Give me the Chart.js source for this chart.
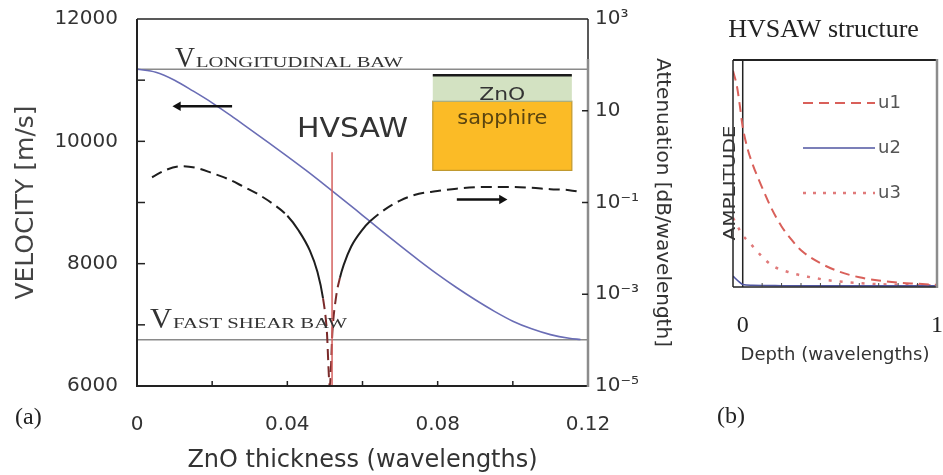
<!DOCTYPE html>
<html>
<head>
<meta charset="utf-8">
<script src="https://cdn.jsdelivr.net/npm/chart.js@4.4.1/dist/chart.umd.min.js"></script>
<style>
  html, body { margin: 0; padding: 0; background: #fff; }
  #wrap { position: relative; width: 943px; height: 475px; }
  #ca { position: absolute; left: 0; top: 0; }
  #cb { position: absolute; left: 690px; top: 0; }
</style>
</head>
<body>
<div id="wrap">
  <canvas id="ca" width="690" height="475"></canvas>
  <canvas id="cb" width="253" height="475"></canvas>
</div>
<script>
// ---- panel (a): velocity and attenuation vs ZnO thickness ----
var thickness = [0, 0.005, 0.01, 0.015, 0.02, 0.025, 0.03, 0.035, 0.04, 0.045, 0.05, 0.055, 0.06,
                 0.065, 0.07, 0.075, 0.08, 0.085, 0.09, 0.095, 0.1, 0.105, 0.11, 0.115, 0.118];
var velocity = [11180, 11130, 11000, 10820, 10630, 10420, 10200, 9980, 9755, 9525, 9285, 9040, 8790,
                8540, 8295, 8055, 7825, 7610, 7410, 7225, 7060, 6935, 6840, 6780, 6760];

var attThickness = [0.004, 0.008, 0.012, 0.016, 0.02, 0.024, 0.028, 0.032, 0.036, 0.04, 0.043, 0.046,
                    0.048, 0.0495, 0.0505, 0.0513, 0.052, 0.053, 0.054, 0.055, 0.057, 0.06, 0.062,
                    0.066, 0.07, 0.075, 0.08, 0.085, 0.09, 0.095, 0.1, 0.105, 0.11, 0.115, 0.118];
var attenuation = [0.355, 0.525, 0.617, 0.562, 0.437, 0.331, 0.229, 0.155, 0.0955, 0.0513, 0.0245, 0.00891,
                   0.00309, 0.000813, 0.000162, 0.00001, 0.000155, 0.000912, 0.00229, 0.00437, 0.011, 0.0257, 0.0389,
                   0.0708, 0.11, 0.155, 0.178, 0.2, 0.214, 0.219, 0.219, 0.209, 0.195, 0.186, 0.17];

var vLongitudinal = 11180;
var vFastShear = 6755;
var hvsawThickness = 0.0519;
var hvsawMarkerV = [6000, 9820];

var arrowLeftX = [0.0253, 0.0109];
var arrowLeftV = 10574;
var arrowRightX = [0.0851, 0.0971];
var arrowRightV = 9049;

var thicknessLabels = [0, 0.04, 0.08, 0.12];
var velocityLabels = [6000, 8000, 10000, 12000];
var attTicks = [1e-5, 1e-3, 1e-1, 1e1, 1e3];
var attTickText = { '3': '10\u00B3', '1': '10', '-1': '10\u207B\u00B9', '-3': '10\u207B\u00B3', '-5': '10\u207B\u2075' };

// ---- panel (b): HVSAW displacement profile ----
var depthU1 = [-0.05, -0.03, -0.015, 0, 0.025, 0.05, 0.1, 0.15, 0.2, 0.25, 0.3, 0.4, 0.5, 0.6, 0.7, 0.8, 0.9, 1.0];
var ampU1 = [1.0, 0.93, 0.84, 0.74, 0.64, 0.57, 0.46, 0.36, 0.28, 0.22, 0.17, 0.11, 0.07, 0.045, 0.03, 0.02, 0.015, 0.01];
var depthU2 = [-0.05, -0.02, 0, 0.05, 0.2, 0.4, 0.6, 0.8, 1.0];
var ampU2 = [0.05, 0.025, 0.012, 0.008, 0.006, 0.005, 0.005, 0.005, 0.005];
var depthU3 = [-0.05, -0.02, 0, 0.04, 0.1, 0.15, 0.25, 0.35, 0.45, 0.6, 0.8, 1.0];
var ampU3 = [0.32, 0.27, 0.24, 0.2, 0.14, 0.1, 0.065, 0.045, 0.03, 0.018, 0.01, 0.008];
var depthLabels = [0, 1];
var depthMinorTicks = [0.1, 0.2, 0.3, 0.4, 0.5, 0.6, 0.7, 0.8, 0.9];

var SANS = 'DejaVu Sans';
var SERIF = 'Liberation Serif';

function pts(xs, ys) {
  return xs.map(function (x, i) { return { x: x, y: Array.isArray(ys) ? ys[i] : ys }; });
}

function line(ctx, x1, y1, x2, y2) {
  ctx.beginPath(); ctx.moveTo(x1, y1); ctx.lineTo(x2, y2); ctx.stroke();
}

// draw text squeezed/stretched to a given width (the original figure is wider than its fonts)
function fitText(ctx, text, x, y, font, width, color, align, rot) {
  ctx.save();
  ctx.font = font;
  ctx.fillStyle = color;
  ctx.textBaseline = rot ? 'middle' : 'alphabetic';
  var w = ctx.measureText(text).width;
  ctx.translate(x, y);
  if (rot) ctx.rotate(rot);
  ctx.scale(width / w, 1);
  ctx.textAlign = align || 'left';
  ctx.fillText(text, 0, 0);
  ctx.restore();
}

// keep chart areas exactly where the figure has them
function noScalePadding(sc) {
  sc.paddingTop = 0; sc.paddingBottom = 0; sc.paddingLeft = 0; sc.paddingRight = 0;
}

var framePluginA = {
  id: 'frameA',
  afterDraw: function (chart) {
    var ctx = chart.ctx, a = chart.chartArea, s = chart.scales;
    ctx.save();
    ctx.lineCap = 'butt';
    // frame
    ctx.strokeStyle = '#222'; ctx.lineWidth = 1.5;
    line(ctx, a.left, a.top, a.right, a.top);
    ctx.lineWidth = 2;
    line(ctx, a.left, a.top, a.left, a.bottom + 1);
    line(ctx, a.left, a.bottom, a.right + 1, a.bottom);
    ctx.strokeStyle = '#8c8c8c'; ctx.lineWidth = 2.5;
    line(ctx, a.right, a.top + 40, a.right, a.bottom + 1);
    ctx.strokeStyle = '#222'; ctx.lineWidth = 1.5;
    line(ctx, a.right, a.top, a.right, a.top + 40);
    // inward tick marks
    ctx.strokeStyle = '#222'; ctx.lineWidth = 1.5;
    s.y.ticks.forEach(function (t) {
      var p = s.y.getPixelForValue(t.value);
      if (p > a.top + 2 && p < a.bottom - 2) line(ctx, a.left, p, a.left + 8, p);
    });
    s.x.ticks.forEach(function (t) {
      var p = s.x.getPixelForValue(t.value);
      if (p > a.left + 2 && p < a.right - 2) line(ctx, p, a.bottom, p, a.bottom - 5);
    });
    s.y2.ticks.forEach(function (t) {
      var p = s.y2.getPixelForValue(t.value);
      if (p > a.top + 2 && p < a.bottom - 2) line(ctx, a.right - 6, p, a.right, p);
    });

    // bulk wave labels
    var yl = s.y.getPixelForValue(vLongitudinal);
    var yf = s.y.getPixelForValue(vFastShear);
    var x0 = s.x.getPixelForValue(0);
    fitText(ctx, 'V', x0 + 38, yl - 2, '29px ' + SERIF, 20, '#333');
    fitText(ctx, 'LONGITUDINAL BAW', x0 + 59, yl - 2, '15px ' + SERIF, 207, '#333');
    fitText(ctx, 'V', x0 + 13, yf - 12, '29px ' + SERIF, 22, '#333');
    fitText(ctx, 'FAST SHEAR BAW', x0 + 36, yf - 12, '15px ' + SERIF, 174, '#333');

    // HVSAW label
    fitText(ctx, 'HVSAW', 297, 137, '27px ' + SANS, 111, '#333');

    // layered-structure inset
    var il = s.x.getPixelForValue(0.0787), ir = s.x.getPixelForValue(0.1157);
    var it = s.y.getPixelForValue(11082), im = s.y.getPixelForValue(10656), ib = s.y.getPixelForValue(9525);
    ctx.fillStyle = '#fbbb26';
    ctx.fillRect(il, im, ir - il, ib - im);
    ctx.strokeStyle = '#c0982e'; ctx.lineWidth = 1.2;
    ctx.strokeRect(il, im, ir - il, ib - im);
    ctx.fillStyle = '#d3e2c2';
    ctx.fillRect(il, it, ir - il, im - it);
    ctx.strokeStyle = '#9fae8e'; ctx.lineWidth = 1;
    line(ctx, il, im, ir, im);
    ctx.strokeStyle = '#1a1a1a'; ctx.lineWidth = 2.5;
    line(ctx, il, it, ir, it);
    var ic = (il + ir) / 2;
    fitText(ctx, 'ZnO', ic, im - 1, '18px ' + SANS, 46, '#333', 'center');
    fitText(ctx, 'sapphire', ic, im + 23, '19px ' + SANS, 90, '#5a4410', 'center');

    // panel tag
    ctx.fillStyle = '#222';
    ctx.font = '24px ' + SERIF;
    ctx.textAlign = 'left';
    ctx.textBaseline = 'middle';
    ctx.fillText('(a)', 15, 418);
    ctx.restore();
  }
};

var chartA = new Chart(document.getElementById('ca'), {
  type: 'line',
  data: {
    datasets: [
      {
        label: 'HVSAW thickness',
        data: pts([hvsawThickness, hvsawThickness], hvsawMarkerV),
        borderColor: '#d4605e', borderWidth: 1.5, pointRadius: 0, yAxisID: 'y', order: 0
      },
      {
        label: 'attenuation',
        data: pts(attThickness, attenuation),
        borderColor: '#1e1e1e', borderWidth: 2, borderDash: [11, 6], pointRadius: 0,
        cubicInterpolationMode: 'monotone', yAxisID: 'y2', order: 1,
        segment: {
          borderDash: function (c) {
            var x0 = c.p0.parsed.x, x1 = c.p1.parsed.x;
            var solid = (x0 >= 0.04 && x1 <= 0.0495) || (x0 >= 0.054 && x1 <= 0.0625);
            return solid ? [] : [11, 6];
          },
          borderColor: function (c) {
            var x0 = c.p0.parsed.x, x1 = c.p1.parsed.x;
            return (x0 >= 0.0495 && x1 <= 0.054) ? '#7a2a2a' : '#1e1e1e';
          }
        }
      },
      {
        label: 'velocity',
        data: pts(thickness, velocity),
        borderColor: '#6a6db5', borderWidth: 1.6, pointRadius: 0,
        cubicInterpolationMode: 'monotone', yAxisID: 'y', order: 2
      },
      {
        label: 'V longitudinal BAW',
        data: pts([0, 0.12], vLongitudinal),
        borderColor: '#8a8a8a', borderWidth: 1.5, pointRadius: 0, yAxisID: 'y', order: 3
      },
      {
        label: 'V fast shear BAW',
        data: pts([0, 0.12], vFastShear),
        borderColor: '#8a8a8a', borderWidth: 1.5, pointRadius: 0, yAxisID: 'y', order: 3
      },
      {
        label: 'arrow left',
        data: pts(arrowLeftX, arrowLeftV),
        borderColor: '#111', borderWidth: 2.5, backgroundColor: '#111',
        pointRadius: [0, 5.5], pointStyle: 'triangle', rotation: -90, pointBorderWidth: 0,
        yAxisID: 'y', order: 0
      },
      {
        label: 'arrow right',
        data: pts(arrowRightX, arrowRightV),
        borderColor: '#111', borderWidth: 2.5, backgroundColor: '#111',
        pointRadius: [0, 5.5], pointStyle: 'triangle', rotation: 90, pointBorderWidth: 0,
        yAxisID: 'y', order: 0
      }
    ]
  },
  options: {
    responsive: false,
    animation: false,
    events: [],
    layout: { padding: { top: 19, left: 0, right: 0, bottom: 0 } },
    plugins: { legend: { display: false }, tooltip: { enabled: false } },
    scales: {
      x: {
        type: 'linear', min: 0, max: 0.12,
        afterBuildTicks: function (sc) {
          sc.ticks = [0, 0.02, 0.04, 0.06, 0.08, 0.1, 0.12].map(function (v) { return { value: v }; });
        },
        afterFit: function (sc) { sc.height = 89; noScalePadding(sc); },
        grid: { display: false, drawTicks: false },
        border: { display: false },
        ticks: {
          autoSkip: false, maxRotation: 0, padding: 27, color: '#333',
          font: { family: SANS, size: 20 },
          callback: function (v) {
            var hit = thicknessLabels.some(function (t) { return Math.abs(t - v) < 1e-9; });
            if (!hit) return '';
            return v === 0 ? '0' : v.toFixed(2);
          }
        },
        title: {
          display: true, text: 'ZnO thickness (wavelengths)', color: '#333',
          font: { family: SANS, size: 24 }, padding: { top: 0, bottom: 0 }
        }
      },
      y: {
        type: 'linear', position: 'left', min: 6000, max: 12000,
        afterBuildTicks: function (sc) {
          sc.ticks = [6000, 7000, 8000, 9000, 10000, 11000, 12000].map(function (v) { return { value: v }; });
        },
        afterFit: function (sc) { sc.width = 137; noScalePadding(sc); },
        grid: { display: false, drawTicks: false },
        border: { display: false },
        ticks: {
          autoSkip: false, padding: 19, color: '#333',
          font: { family: SANS, size: 20 },
          callback: function (v) { return velocityLabels.indexOf(v) >= 0 ? String(v) : ''; }
        },
        title: {
          display: true, text: 'VELOCITY [m/s]', color: '#444',
          font: { family: SANS, size: 25 }, padding: { top: 11, bottom: 0 }
        }
      },
      y2: {
        type: 'logarithmic', position: 'right', min: 1e-5, max: 1e3,
        afterBuildTicks: function (sc) {
          sc.ticks = attTicks.map(function (v) { return { value: v }; });
        },
        afterFit: function (sc) { sc.width = 102; noScalePadding(sc); },
        grid: { display: false, drawTicks: false },
        border: { display: false },
        ticks: {
          autoSkip: false, padding: 7, color: '#333',
          font: { family: SANS, size: 20 },
          callback: function (v) { return attTickText[String(Math.round(Math.log10(v)))]; }
        },
        title: {
          display: true, text: 'Attenuation [dB/wavelength]', color: '#333',
          font: { family: SANS, size: 20 }, padding: { top: 16, bottom: 0 }
        }
      }
    }
  },
  plugins: [framePluginA]
});

var framePluginB = {
  id: 'frameB',
  afterDraw: function (chart) {
    var ctx = chart.ctx, a = chart.chartArea, s = chart.scales;
    ctx.save();
    ctx.strokeStyle = '#222'; ctx.lineWidth = 2;
    line(ctx, a.left, a.top, a.right, a.top);
    ctx.lineWidth = 1.5;
    line(ctx, a.left, a.top, a.left, a.bottom);
    line(ctx, a.left, a.bottom, a.right, a.bottom);
    ctx.strokeStyle = '#8c8c8c'; ctx.lineWidth = 2.5;
    line(ctx, a.right, a.top - 1, a.right, a.bottom + 1);
    ctx.strokeStyle = '#444'; ctx.lineWidth = 1;
    depthMinorTicks.forEach(function (d) {
      var p = s.x.getPixelForValue(d);
      line(ctx, p, a.bottom, p, a.bottom - 4);
    });

    // legend
    var lx = a.left + 70, lw = 72;
    chart.data.datasets.forEach(function (ds) {
      if (!ds.legendRow) return;
      var y = a.top + 43 + (ds.legendRow - 1) * 45;
      ctx.strokeStyle = ds.borderColor;
      ctx.lineWidth = ds.borderWidth;
      ctx.setLineDash(ds.legendDash || []);
      line(ctx, lx, y, lx + lw, y);
      ctx.setLineDash([]);
      ctx.fillStyle = '#555';
      ctx.font = '18px ' + SANS;
      ctx.textBaseline = 'middle';
      ctx.textAlign = 'left';
      ctx.fillText(ds.label, lx + lw + 3, y);
    });

    // y-axis label, stretched like the original
    fitText(ctx, 'AMPLITUDE', 41, 183, '15px ' + SANS, 115, '#333', 'center', -Math.PI / 2);

    ctx.fillStyle = '#222';
    ctx.font = '24px ' + SERIF;
    ctx.textAlign = 'left';
    ctx.textBaseline = 'middle';
    ctx.fillText('(b)', 27, 417);
    ctx.restore();
  }
};

var chartB = new Chart(document.getElementById('cb'), {
  type: 'line',
  data: {
    datasets: [
      {
        label: 'u1', legendRow: 1, legendDash: [10, 6],
        data: pts(depthU1, ampU1),
        borderColor: '#d9605a', borderWidth: 2, borderDash: [10, 6], pointRadius: 0,
        cubicInterpolationMode: 'monotone'
      },
      {
        label: 'u2', legendRow: 2,
        data: pts(depthU2, ampU2),
        borderColor: '#4f55a0', borderWidth: 1.6, pointRadius: 0,
        cubicInterpolationMode: 'monotone'
      },
      {
        label: 'u3', legendRow: 3, legendDash: [3, 7],
        data: pts(depthU3, ampU3),
        borderColor: '#e07a7a', borderWidth: 2.5, borderDash: [3, 8], pointRadius: 0,
        cubicInterpolationMode: 'monotone'
      },
      {
        label: 'surface',
        data: pts([0, 0], [0, 1.05]),
        borderColor: '#222', borderWidth: 1.5, pointRadius: 0
      }
    ]
  },
  options: {
    responsive: false,
    animation: false,
    events: [],
    layout: { padding: { top: 0, left: 20, right: 6, bottom: 0 } },
    plugins: {
      legend: { display: false },
      tooltip: { enabled: false },
      title: {
        display: true, text: 'HVSAW structure', color: '#222',
        font: { family: SERIF, size: 26, weight: 'normal' },
        padding: { top: 14.4, bottom: 14.4 }
      }
    },
    scales: {
      x: {
        type: 'linear', min: -0.05, max: 1,
        afterBuildTicks: function (sc) {
          sc.ticks = depthLabels.map(function (v) { return { value: v }; });
        },
        afterFit: function (sc) { sc.height = 188; noScalePadding(sc); },
        grid: { display: false, drawTicks: false },
        border: { display: false },
        ticks: {
          autoSkip: false, maxRotation: 0, padding: 24, color: '#222',
          font: { family: SERIF, size: 24 },
          callback: function (v) { return String(v); }
        },
        title: {
          display: true, text: 'Depth (wavelengths)', color: '#333',
          font: { family: SANS, size: 18 }, padding: { top: 0, bottom: 109 }
        }
      },
      y: {
        type: 'linear', min: 0, max: 1.05,
        afterFit: function (sc) { sc.width = 23; noScalePadding(sc); },
        grid: { display: false, drawTicks: false },
        border: { display: false },
        ticks: { display: false }
      }
    }
  },
  plugins: [framePluginB]
});
</script>
</body>
</html>
